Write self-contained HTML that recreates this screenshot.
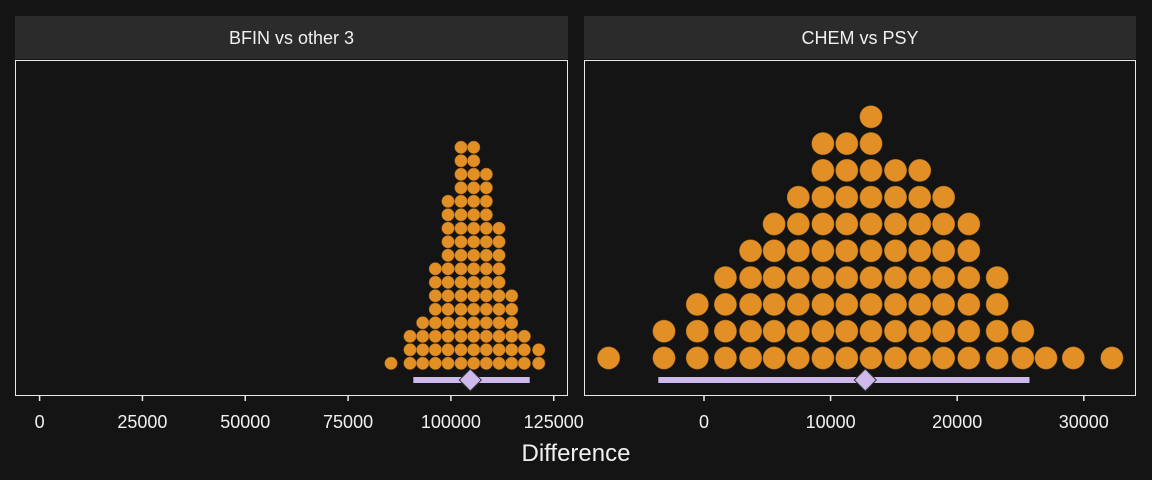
<!DOCTYPE html>
<html><head><meta charset="utf-8"><style>
body{margin:0;background:#141414;}
svg{display:block;font-family:"Liberation Sans",sans-serif;}
</style></head><body>
<svg id="c" width="1152" height="480">
<rect width="1152" height="480" fill="#141414"/>
</svg>
<script>
const leftCenters=[85440,90060,93150,96210,99300,102460,105550,108610,111700,114780,117850,121350];
const leftCounts=[1,3,4,8,13,17,17,15,11,6,3,2];
const leftCI=[90860,119160];
const leftMean=104720;
const leftTicks=[0,25000,50000,75000,100000,125000];
const rightCenters=[-7536,-3160,-529,1690,3681,5537,7449,9392,11280,13191,15126,17038,18926,20916,23160,25182,27014,29170,32220];
const rightCounts=[1,2,3,4,5,6,7,9,9,10,8,8,7,6,4,2,1,1,1];
const rightCI=[-3610,25710];
const rightMean=12740;
const rightTicks=[0,10000,20000,30000];
const titles=["BFIN vs other 3","CHEM vs PSY"];

const NS="http://www.w3.org/2000/svg";
const svg=document.getElementById('c');
function mk(t,a,p){const e=document.createElementNS(NS,t);for(const k in a)e.setAttribute(k,a[k]);(p||svg).appendChild(e);return e;}
const panels=[
 {x0:15,x1:568,sx:v=>39.6+v*0.004113,centers:leftCenters,counts:leftCounts,ci:leftCI,mean:leftMean,ticks:leftTicks,r:6.3,base:363.3,step:13.5,name:'bfin'},
 {x0:584,x1:1136,sx:v=>704+v*0.01266,centers:rightCenters,counts:rightCounts,ci:rightCI,mean:rightMean,ticks:rightTicks,r:11.2,base:358,step:26.8,name:'chem'}
];
panels.forEach((p,i)=>{
 const g=mk('g',{});
 
 
 const strip=mk('rect',{x:p.x0,y:16,width:p.x1-p.x0,height:43,fill:'#2b2b2b'},g);
 
 
 const st=mk('text',{x:(p.x0+p.x1)/2,y:44,'text-anchor':'middle','font-size':18,fill:'#f0f0f0'},g);
 st.textContent=titles[i];
 
 
 mk('rect',{x:p.x0+0.5,y:60.5,width:p.x1-p.x0-1,height:335,fill:'#141414',stroke:'#e8e8e8','stroke-width':1},g);
 p.centers.forEach((c,j)=>{
  for(let k=0;k<p.counts[j];k++){
   const d=mk('circle',{cx:p.sx(c),cy:p.base-k*p.step,r:p.r,fill:'#e28f26',stroke:'#9a5f15','stroke-width':0.5},g);
   
   
  }
 });
 const ci=mk('rect',{x:p.sx(p.ci[0]),y:377,width:p.sx(p.ci[1])-p.sx(p.ci[0]),height:6,fill:'#cdb9ec'},g);
 
 
 const mx=p.sx(p.mean);
 const dm=mk('polygon',{points:`${mx},369 ${mx+11},380 ${mx},391 ${mx-11},380`,fill:'#cdb9ec',stroke:'#333','stroke-width':1},g);
 
 
 p.ticks.forEach(t=>{
  const x=p.sx(t);
  mk('line',{x1:x,x2:x,y1:396,y2:401,stroke:'#e8e8e8','stroke-width':1.5},g);
  const tl=mk('text',{x:x,y:428,'text-anchor':'middle','font-size':18,fill:'#f0f0f0'},g);
  tl.textContent=t;
  
  
 });
});
const xt=mk('text',{x:576,y:461,'text-anchor':'middle','font-size':24,fill:'#f0f0f0'});
xt.textContent='Difference';


</script>
</body></html>
